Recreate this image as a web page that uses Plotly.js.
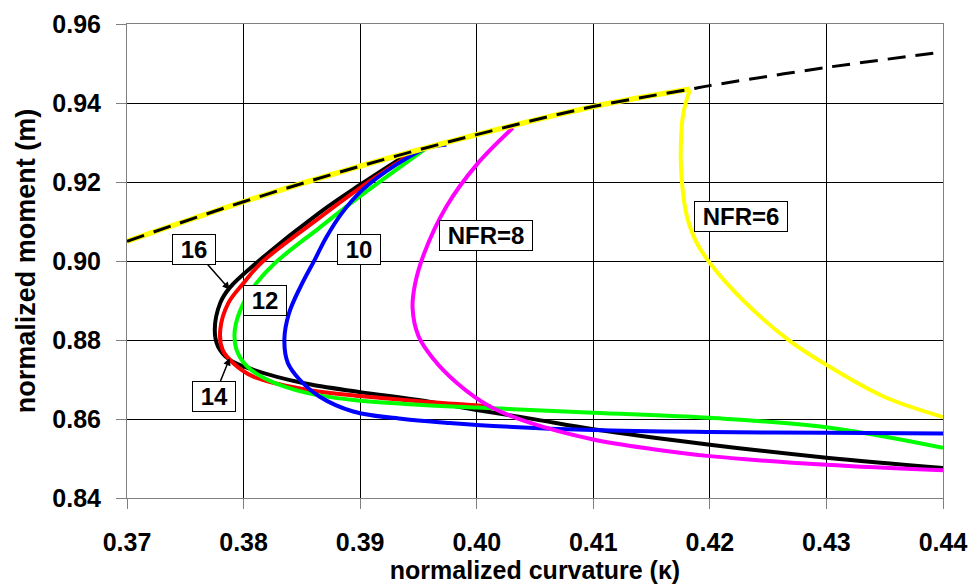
<!DOCTYPE html>
<html>
<head>
<meta charset="utf-8">
<script src="https://cdn.plot.ly/plotly-3.0.1.min.js"></script>
<style>html,body{margin:0;padding:0;background:#fff;}#chart{width:972px;height:586px;}</style>
</head>
<body>
<div id="chart"></div>
<script>
// Envelope (dashed black)
const envX = [0.370, 0.380, 0.390, 0.400, 0.410, 0.4183, 0.420, 0.430, 0.440];
const envY = [0.905, 0.915, 0.924, 0.932, 0.9391, 0.9435, 0.9444, 0.949, 0.9529];

// NFR = 6 (yellow): follows the envelope up to its peak, then drops
const nfr6X = [0.370, 0.380, 0.390, 0.400, 0.410, 0.4183, 0.4177, 0.4175, 0.4176, 0.4180, 0.4188, 0.4200, 0.4228, 0.4267, 0.4300, 0.4349, 0.4400];
const nfr6Y = [0.905, 0.915, 0.924, 0.932, 0.9391, 0.9435, 0.937, 0.927, 0.9202, 0.9117, 0.905, 0.8995, 0.8902, 0.8801, 0.8737, 0.8657, 0.8605];
const nfr6Peak = 5; // index where the curve leaves the envelope

// NFR = 8 (magenta)
const nfr8X = [0.4031, 0.4000, 0.3974, 0.3955, 0.3947, 0.3945, 0.3950, 0.3962, 0.3983, 0.4011, 0.4046, 0.4100, 0.4150, 0.4200, 0.4300, 0.4400];
const nfr8Y = [0.9337, 0.9244, 0.9138, 0.9020, 0.8940, 0.8880, 0.8810, 0.8755, 0.8691, 0.8632, 0.8590, 0.8548, 0.8524, 0.8506, 0.8484, 0.8470];

// NFR = 10 (blue)
const nfr10X = [0.3974, 0.3957, 0.3931, 0.3902, 0.3884, 0.3871, 0.3861, 0.3849, 0.3839, 0.3835, 0.3838, 0.3848, 0.3865, 0.3894, 0.3937, 0.3977, 0.4000, 0.4100, 0.4200, 0.4300, 0.4400];
const nfr10Y = [0.9294, 0.9286, 0.9244, 0.9180, 0.9120, 0.9060, 0.9003, 0.8936, 0.8868, 0.8801, 0.8742, 0.8700, 0.8657, 0.8619, 0.8600, 0.8590, 0.8585, 0.8572, 0.8567, 0.8565, 0.8563];

// NFR = 12 (green)
const nfr12X = [0.3955, 0.3900, 0.3865, 0.3827, 0.3811, 0.3800, 0.37925, 0.3794, 0.3803, 0.3820, 0.3854, 0.3894, 0.3950, 0.4000, 0.4100, 0.4200, 0.4300, 0.4400];
const nfr12Y = [0.9282, 0.9164, 0.9084, 0.8995, 0.8944, 0.8894, 0.8826, 0.8775, 0.8733, 0.8700, 0.8666, 0.8648, 0.8636, 0.8629, 0.8616, 0.8603, 0.8579, 0.8527];

// NFR = 14 (red)
const nfr14X = [0.3948, 0.3900, 0.3865, 0.3815, 0.3800, 0.3787, 0.3780, 0.3782, 0.3791, 0.3808, 0.3851, 0.3900, 0.3950, 0.4012];
const nfr14Y = [0.9279, 0.9185, 0.9109, 0.8995, 0.8944, 0.8894, 0.8826, 0.8775, 0.8742, 0.8708, 0.8676, 0.8658, 0.8645, 0.8632];

// NFR = 16 (black)
const nfr16X = [0.3943, 0.3900, 0.3865, 0.3811, 0.3788, 0.3780, 0.37753, 0.3778, 0.3788, 0.3808, 0.3851, 0.3900, 0.3950, 0.4000, 0.4050, 0.4100, 0.4200, 0.4300, 0.4400];
const nfr16Y = [0.9275, 0.9193, 0.9122, 0.8995, 0.8932, 0.8894, 0.8826, 0.8784, 0.8750, 0.8725, 0.8691, 0.8668, 0.8648, 0.8623, 0.8599, 0.8574, 0.8535, 0.8502, 0.8476];

// Labels
const labelText = ['16', '12', '14', '10', 'NFR=8', 'NFR=6'];
const labelX = [0.37579, 0.38185, 0.3775, 0.38991, 0.40082, 0.42268];
const labelY = [0.90294, 0.8900, 0.86582, 0.90294, 0.90646, 0.91129];
const arrowX = [0.37882, null, 0.37882, null, null, null];
const arrowY = [0.89273, null, 0.87544, null, null, null];

const xTicks = [0.37, 0.38, 0.39, 0.40, 0.41, 0.42, 0.43, 0.44];
const xTickText = ['0.37', '0.38', '0.39', '0.40', '0.41', '0.42', '0.43', '0.44'];
const yTicks = [0.84, 0.86, 0.88, 0.90, 0.92, 0.94, 0.96];
const yTickText = ['0.84', '0.86', '0.88', '0.90', '0.92', '0.94', '0.96'];

function curve(x, y, color, width, dash) {
  return {
    x: x, y: y, type: 'scatter', mode: 'lines', hoverinfo: 'skip',
    line: {color: color, width: width, dash: dash || 'solid', shape: 'spline', smoothing: 1}
  };
}

const traces = [
  curve(nfr16X, nfr16Y, '#000000', 4),
  curve(nfr14X, nfr14Y, '#ff0000', 4),
  curve(nfr12X, nfr12Y, '#00ff00', 4),
  curve(nfr10X, nfr10Y, '#0000ff', 4),
  curve(nfr8X, nfr8Y, '#ff00ff', 4),
  curve(nfr6X.slice(0, nfr6Peak + 1), nfr6Y.slice(0, nfr6Peak + 1), '#ffff00', 5.4),
  curve(nfr6X.slice(nfr6Peak), nfr6Y.slice(nfr6Peak), '#ffff00', 4),
  curve(envX, envY, '#000000', 3, '18px,10px')
];

const font = "'Liberation Sans', Arial, sans-serif";
const annotations = labelText.map((t, i) => {
  const a = {
    text: '\u00a0' + t + '\u00a0',
    xref: 'x', yref: 'y',
    font: {family: font, size: 24, color: '#000', weight: 700},
    bgcolor: '#ffffff', bordercolor: '#000000', borderwidth: 1, borderpad: 1,
    showarrow: false, xanchor: 'center', yanchor: 'middle',
    x: labelX[i], y: labelY[i]
  };
  if (arrowX[i] !== null) {
    a.showarrow = true;
    a.x = arrowX[i]; a.y = arrowY[i];
    a.axref = 'x'; a.ayref = 'y';
    a.ax = labelX[i]; a.ay = labelY[i];
    a.arrowhead = 2; a.arrowsize = 1; a.arrowwidth = 1.5; a.arrowcolor = '#000';
  }
  return a;
});

const layout = {
  width: 972, height: 586,
  margin: {l: 127, r: 29, t: 24, b: 88},
  paper_bgcolor: '#ffffff', plot_bgcolor: '#ffffff',
  showlegend: false,
  font: {family: font, color: '#000'},
  xaxis: {
    range: [0.37, 0.44], tickvals: xTicks, ticktext: xTickText,
    showgrid: true, gridcolor: '#000000', gridwidth: 1,
    showline: true, linecolor: '#808080', linewidth: 1, mirror: true,
    ticks: 'outside', ticklen: 10, tickcolor: '#808080', tickwidth: 1,
    ticklabelstandoff: 12,
    tickfont: {family: font, size: 25, weight: 700, color: '#000'},
    zeroline: false,
    title: {text: 'normalized curvature (κ)', font: {family: font, size: 25, weight: 700, color: '#000'}, standoff: 6}
  },
  yaxis: {
    range: [0.84, 0.96], tickvals: yTicks, ticktext: yTickText,
    showgrid: true, gridcolor: '#000000', gridwidth: 1,
    showline: true, linecolor: '#808080', linewidth: 1, mirror: true,
    ticks: 'outside', ticklen: 10, tickcolor: '#808080', tickwidth: 1,
    ticklabelstandoff: 10,
    tickfont: {family: font, size: 25, weight: 700, color: '#000'},
    zeroline: false,
    title: {text: 'normalized moment (m)', font: {family: font, size: 27, weight: 700, color: '#000'}, standoff: 8}
  },
  annotations: annotations
};

Plotly.newPlot('chart', traces, layout, {staticPlot: true, displayModeBar: false});
</script>
</body>
</html>
